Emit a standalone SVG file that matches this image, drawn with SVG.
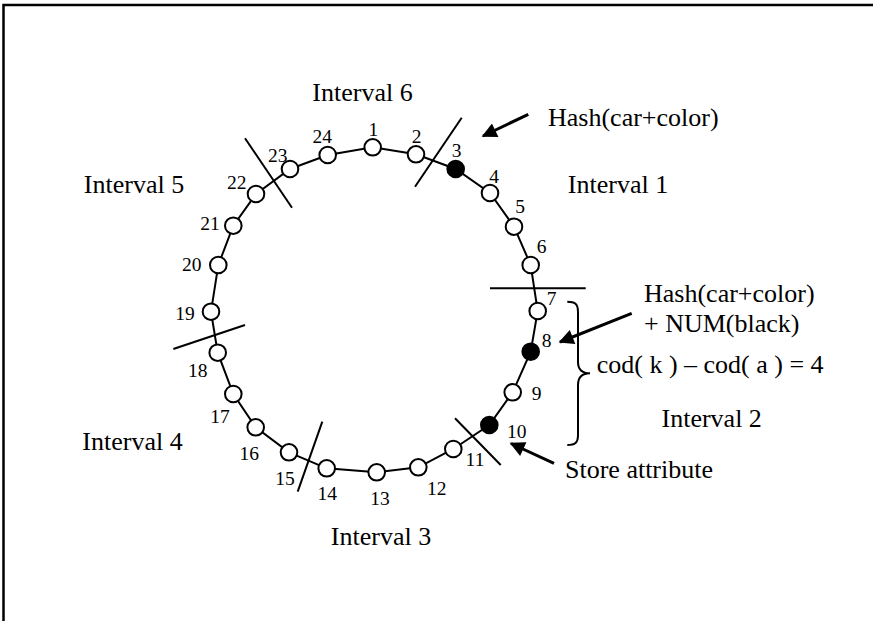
<svg xmlns="http://www.w3.org/2000/svg" width="873" height="621" viewBox="0 0 873 621">
  <defs>
    <style>
      .frame { stroke: #000; stroke-width: 2.5; fill: none; }
      .ring { stroke: #000; stroke-width: 2; fill: none; }
      .cut { stroke: #000; stroke-width: 2; fill: none; }
      .ptr { stroke: #000; stroke-width: 3; fill: none; }
      .node circle { stroke: #000; stroke-width: 2; fill: #fff; }
      .node.set circle { fill: #000; }
      text { font-family: "Liberation Serif", "Times New Roman", serif; fill: #000; }
      .num { font-size: 19.5px; text-anchor: middle; }
      .big { font-size: 26px; }
      .mid { text-anchor: middle; }
    </style>
    <marker id="head" viewBox="0 0 10 10" refX="9" refY="5" markerWidth="6" markerHeight="5" markerUnits="strokeWidth" orient="auto">
      <path d="M0,0 L10,5 L0,10 z" fill="#000"/>
    </marker>
  </defs>

  <rect width="873" height="621" fill="#fff"/>

  <!-- open frame: top and left edges only -->
  <path class="frame" d="M3.5,621 V5 H873"/>

  <!-- ring connectors between neighbouring slots -->
  <g id="connectors">
    <path class="ring" d="M372.7,147.3 L416,154.3 L455.7,169 L490,193 L514,226.7 L530.7,265 L537.7,311 L530.7,351.7 L512.7,392.3 L489.3,425 L453.3,449 L418.3,467.3 L376.7,472.3 L326.7,468.3 L289,452.3 L255.7,427.3 L233.3,394 L217.7,352.7 L211,311.7 L218.3,265 L233.3,225.7 L256,194 L290,169 L327.7,155 Z"/>

    <!-- interval boundaries -->
    <line class="cut" x1="461.7" y1="117.7" x2="415" y2="186.7"/>
    <line class="cut" x1="490" y1="288.3" x2="585.7" y2="288.3"/>
    <line class="cut" x1="455" y1="418.3" x2="500.7" y2="465"/>
    <line class="cut" x1="322.3" y1="421.7" x2="297.7" y2="491.7"/>
    <line class="cut" x1="245" y1="325" x2="173.3" y2="349"/>
    <line class="cut" x1="245" y1="138.3" x2="292" y2="207.7"/>

    <!-- pointers -->
    <line class="ptr" x1="528.3" y1="114.3" x2="483" y2="136" marker-end="url(#head)"/>
    <line class="ptr" x1="631.7" y1="313.3" x2="560" y2="342" marker-end="url(#head)"/>
    <line class="ptr" x1="554" y1="463.3" x2="511" y2="443.5" marker-end="url(#head)"/>

    <!-- brace spanning slots 7 to 10 -->
    <path class="ring" d="M567.3,301.7 C575,301.7 578,304 578,312 V362 C578,370 582,373.3 590,373.3 C582,373.3 578,377 578,385 V435 C578,443 575,445 567.3,445"/>
  </g>

  <!-- slots on the ring -->
  <g id="n1" class="node"><circle cx="372.7" cy="147.3" r="8.3"/><text class="num" x="373.3" y="135.7">1</text></g>
  <g id="n2" class="node"><circle cx="416" cy="154.3" r="8.3"/><text class="num" x="416.7" y="143.3">2</text></g>
  <g id="n3" class="node set"><circle cx="455.7" cy="169" r="8.3"/><text class="num" x="456.7" y="157.3">3</text></g>
  <g id="n4" class="node"><circle cx="490" cy="193" r="8.3"/><text class="num" x="494" y="183.3">4</text></g>
  <g id="n5" class="node"><circle cx="514" cy="226.7" r="8.3"/><text class="num" x="520" y="213.3">5</text></g>
  <g id="n6" class="node"><circle cx="530.7" cy="265" r="8.3"/><text class="num" x="541.7" y="253.3">6</text></g>
  <g id="n7" class="node"><circle cx="537.7" cy="311" r="8.3"/><text class="num" x="551.7" y="305">7</text></g>
  <g id="n8" class="node set"><circle cx="530.7" cy="351.7" r="8.3"/><text class="num" x="546.7" y="346.7">8</text></g>
  <g id="n9" class="node"><circle cx="512.7" cy="392.3" r="8.3"/><text class="num" x="536.7" y="400">9</text></g>
  <g id="n10" class="node set"><circle cx="489.3" cy="425" r="8.3"/><text class="num" x="516.7" y="438.3">10</text></g>
  <g id="n11" class="node"><circle cx="453.3" cy="449" r="8.3"/><text class="num" x="475" y="466">11</text></g>
  <g id="n12" class="node"><circle cx="418.3" cy="467.3" r="8.3"/><text class="num" x="436.7" y="495">12</text></g>
  <g id="n13" class="node"><circle cx="376.7" cy="472.3" r="8.3"/><text class="num" x="380" y="505">13</text></g>
  <g id="n14" class="node"><circle cx="326.7" cy="468.3" r="8.3"/><text class="num" x="327.3" y="500">14</text></g>
  <g id="n15" class="node"><circle cx="289" cy="452.3" r="8.3"/><text class="num" x="285" y="485">15</text></g>
  <g id="n16" class="node"><circle cx="255.7" cy="427.3" r="8.3"/><text class="num" x="249.3" y="460">16</text></g>
  <g id="n17" class="node"><circle cx="233.3" cy="394" r="8.3"/><text class="num" x="220" y="422.5">17</text></g>
  <g id="n18" class="node"><circle cx="217.7" cy="352.7" r="8.3"/><text class="num" x="197.7" y="376.7">18</text></g>
  <g id="n19" class="node"><circle cx="211" cy="311.7" r="8.3"/><text class="num" x="185" y="320">19</text></g>
  <g id="n20" class="node"><circle cx="218.3" cy="265" r="8.3"/><text class="num" x="191.7" y="270.7">20</text></g>
  <g id="n21" class="node"><circle cx="233.3" cy="225.7" r="8.3"/><text class="num" x="210" y="230">21</text></g>
  <g id="n22" class="node"><circle cx="256" cy="194" r="8.3"/><text class="num" x="236.7" y="189">22</text></g>
  <g id="n23" class="node"><circle cx="290" cy="169" r="8.3"/><text class="num" x="277.7" y="162.3">23</text></g>
  <g id="n24" class="node"><circle cx="327.7" cy="155" r="8.3"/><text class="num" x="322.3" y="143.3">24</text></g>

  <!-- interval names -->
  <g id="intervals">
    <text class="big mid" x="362.5" y="101">Interval 6</text>
    <text class="big mid" x="618" y="193">Interval 1</text>
    <text class="big mid" x="711.7" y="427">Interval 2</text>
    <text class="big mid" x="381" y="545">Interval 3</text>
    <text class="big mid" x="132.5" y="450">Interval 4</text>
    <text class="big mid" x="134" y="193">Interval 5</text>
  </g>

  <!-- annotations -->
  <g id="notes">
    <text class="big" x="548" y="126">Hash(car+color)</text>
    <text class="big" x="644" y="302">Hash(car+color)</text>
    <text class="big" x="644" y="332">+ NUM(black)</text>
    <text class="big" x="596.7" y="373.3">cod( k ) – cod( a ) = 4</text>
    <text class="big" x="565" y="478.3">Store attribute</text>
  </g>
</svg>
